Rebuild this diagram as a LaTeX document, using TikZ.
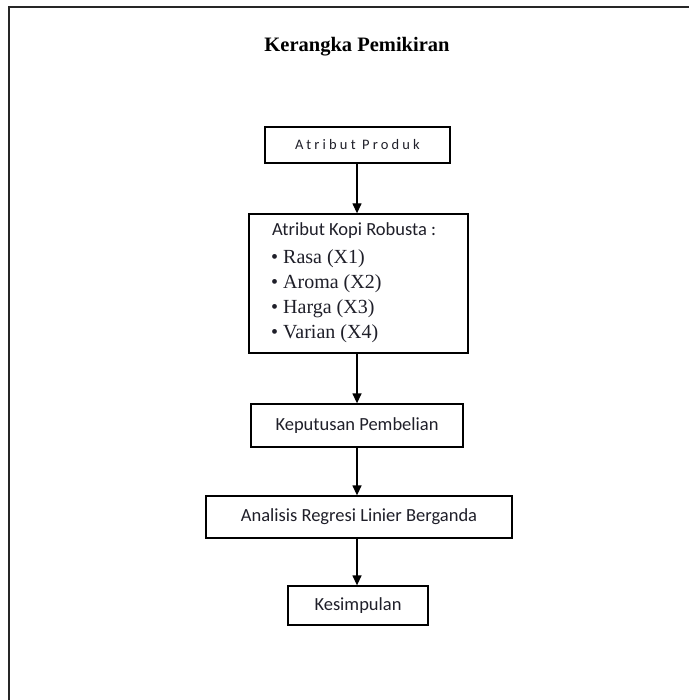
\documentclass[tikz,border=0pt]{standalone}
\usepackage{fontspec}
\setmainfont{Liberation Serif}
\newfontfamily\boxfont{Carlito}
\newfontfamily\spacedfont[LetterSpace=22]{Carlito}
\usetikzlibrary{arrows.meta}
\definecolor{txt}{rgb}{0.12,0.12,0.16}
\tikzset{
  box/.style={draw=black, line width=1.3pt, inner sep=0pt, fill=white},
  lbl/.style={font=\boxfont\fontsize{18.5}{22}\selectfont, text=txt},
  item/.style={inner sep=0pt, anchor=west, text=txt, font=\fontsize{20}{24}\selectfont},
  arr/.style={line width=1.3pt, -{Triangle[length=10pt,width=9pt]}},
}
\begin{document}
\begin{tikzpicture}[x=1pt,y=-1pt]
\useasboundingbox (0,0) rectangle (689,700);
\fill[white] (0,0) rectangle (689,700);
% frame (top and left edges only)
\draw[line width=2pt, black!85] (9,700) -- (9,7) -- (689,7);
% title
\node[inner sep=0pt, font=\bfseries\fontsize{20.5}{24}\selectfont] (title) at (357,47) {Kerangka Pemikiran};
% boxes
\node[box, minimum width=185pt, minimum height=36pt, lbl, font=\spacedfont\fontsize{14.5}{18}\selectfont] (b1) at (357.5,145) {Atribut Produk};
\node[box, minimum width=219pt, minimum height=139pt] (b2) at (358.5,283.5) {};
\node[box, minimum width=212pt, minimum height=43pt, lbl] (b3) at (357,425.5) {Keputusan Pembelian};
\node[box, minimum width=306pt, minimum height=42pt, lbl] (b4) at (359,517) {Analisis Regresi Linier Berganda};
\node[box, minimum width=140pt, minimum height=39pt, lbl] (b5) at (358,605.5) {Kesimpulan};
% contents of box 2
\node[lbl, inner sep=0pt, anchor=west] (h2) at (272,231) {Atribut Kopi Robusta :};
\node[item] (i1) at (271,259) {\textbullet\hspace{5pt}Rasa (X1)};
\node[item] (i2) at (271,284) {\textbullet\hspace{5pt}Aroma (X2)};
\node[item] (i3) at (271,309) {\textbullet\hspace{5pt}Harga (X3)};
\node[item] (i4) at (271,334) {\textbullet\hspace{5pt}Varian (X4)};
% connectors
\draw[arr] (b1.south -| 357,0) -- (b2.north -| 357,0);
\draw[arr] (b2.south -| 357,0) -- (b3.north -| 357,0);
\draw[arr] (b3.south -| 357,0) -- (b4.north -| 357,0);
\draw[arr] (b4.south -| 357,0) -- (b5.north -| 357,0);
\end{tikzpicture}
\end{document}
